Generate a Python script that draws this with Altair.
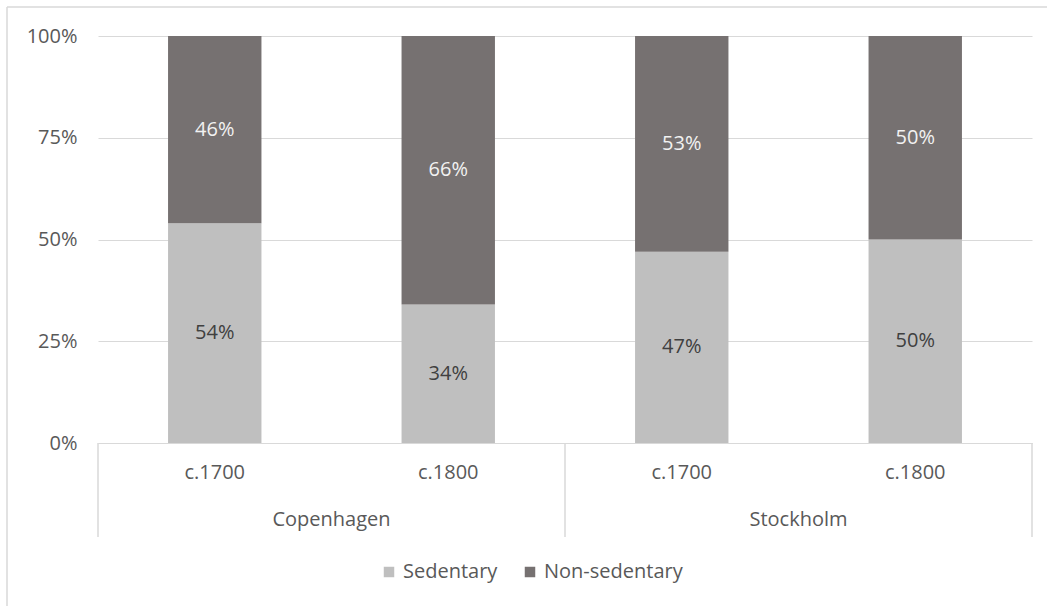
import altair as alt
import pandas as pd

cities = ["Copenhagen", "Copenhagen", "Stockholm", "Stockholm"]
periods = ["c.1700", "c.1800", "c.1700", "c.1800"]
sedentary = [0.54, 0.34, 0.47, 0.50]
non_sedentary = [0.46, 0.66, 0.53, 0.50]
series_names = ["Sedentary", "Non-sedentary"]
series_colors = ["#bfbfbf", "#767171"]
city_names = ["Copenhagen", "Stockholm"]

W, H = 934, 407
PAD_INNER = 0.6
PAD_OUTER = 0.3
STEP = W / (len(periods) - PAD_INNER + 2 * PAD_OUTER)
FONT = "Open Sans"
FS = 20
TXT = "#595959"
LINE = "#d9d9d9"

keys = [f"{c}|{p}" for c, p in zip(cities, periods)]
rows = []
for k, c, p, s, n in zip(keys, cities, periods, sedentary, non_sedentary):
    rows.append({"key": k, "city": c, "period": p, "series": series_names[0], "order": 0, "value": s})
    rows.append({"key": k, "city": c, "period": p, "series": series_names[1], "order": 1, "value": n})
df = pd.DataFrame(rows)

xscale = alt.Scale(domain=keys, paddingInner=PAD_INNER, paddingOuter=PAD_OUTER)

x_enc = alt.X(
    "key:N",
    scale=xscale,
    sort=keys,
    title=None,
    axis=alt.Axis(
        labelExpr="split(datum.label, '|')[1]",
        labelAngle=0,
        labelFont=FONT,
        labelFontSize=FS,
        labelColor=TXT,
        labelPadding=19,
        ticks=False,
        domainColor=LINE,
        domainWidth=1,
    ),
)

bars = alt.Chart(df).mark_bar().encode(
    x=x_enc,
    y=alt.Y(
        "value:Q",
        stack="zero",
        scale=alt.Scale(domain=[0, 1], nice=False),
        title=None,
        axis=alt.Axis(
            values=[0, 0.25, 0.5, 0.75, 1],
            format=".0%",
            labelFont=FONT,
            labelFontSize=FS,
            labelColor=TXT,
            labelPadding=21,
            domain=False,
            ticks=False,
            grid=True,
            gridColor=LINE,
            gridWidth=1,
        ),
    ),
    color=alt.Color(
        "series:N",
        scale=alt.Scale(domain=series_names, range=series_colors),
        sort=series_names,
        legend=alt.Legend(
            title=None,
            orient="none",
            direction="horizontal",
            legendX=281,
            legendY=526,
            symbolType="square",
            symbolSize=110,
            symbolStrokeWidth=0,
            labelFont=FONT,
            labelFontSize=FS,
            labelColor=TXT,
            labelOffset=4,
            columnPadding=22,
        ),
    ),
    order=alt.Order("order:Q"),
)

labels = alt.Chart(df).transform_stack(
    stack="value", groupby=["key"], as_=["v0", "v1"], sort=[alt.SortField("order")]
).transform_calculate(
    mid="(datum.v0 + datum.v1) / 2"
).mark_text(font=FONT, fontSize=FS, baseline="middle", align="center").encode(
    x=alt.X("key:N", scale=xscale, sort=keys),
    y=alt.Y("mid:Q"),
    text=alt.Text("value:Q", format=".0%"),
    color=alt.condition("datum.series == 'Sedentary'", alt.value("#404040"), alt.value("#f2f2f2")),
)

city_df = pd.DataFrame({"city": city_names, "key": [keys[cities.index(c)] for c in city_names]})
city_labels = alt.Chart(city_df).mark_text(
    font=FONT, fontSize=FS, color=TXT, baseline="middle", align="center", dx=STEP / 2
).encode(
    x=alt.X("key:N", scale=xscale, sort=keys),
    y=alt.value(H + 77),
    text="city:N",
)

# axis frame separators below the plot
sep = alt.Chart(pd.DataFrame({"k": [0]})).mark_rule(color=LINE, strokeWidth=1.5)
seps = [
    sep.encode(x=alt.value(xv), y=alt.value(H), y2=alt.value(H + 94))
    for xv in [0, W / 2, W]
]

# outer chart border
border_top = sep.encode(x=alt.value(-91), x2=alt.value(W + 200), y=alt.value(-29))
border_left = sep.encode(x=alt.value(-91), y=alt.value(-29), y2=alt.value(H + 200))

chart = alt.layer(bars, labels, city_labels, *seps, border_top, border_left).properties(
    width=W,
    height=H,
    autosize=alt.AutoSizeParams(type="none"),
    padding={"left": 98, "top": 36, "right": 15, "bottom": 163},
    background="white",
).configure_view(stroke=None)

chart.save("out.html", embed_options={"renderer": "svg", "actions": False})
